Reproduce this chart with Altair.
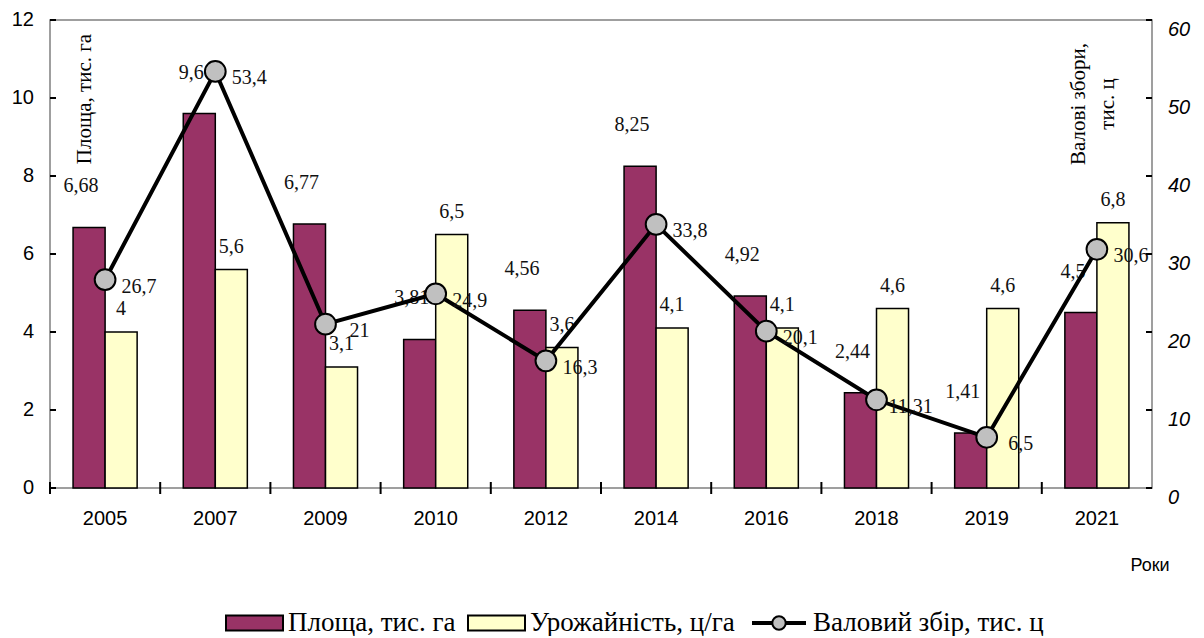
import altair as alt
import pandas as pd

years = ["2005", "2007", "2009", "2010", "2012", "2014", "2016", "2018", "2019", "2021"]
area = [6.68, 9.6, 6.77, 3.81, 4.56, 8.25, 4.92, 2.44, 1.41, 4.5]
yields = [4, 5.6, 3.1, 6.5, 3.6, 4.1, 4.1, 4.6, 4.6, 6.8]
total = [26.7, 53.4, 21, 24.9, 16.3, 33.8, 20.1, 11.31, 6.5, 30.6]
series_names = ["Площа, тис. га", "Урожайність, ц/га", "Валовий збір, тис. ц"]
bar_colors = ["#993366", "#FFFFCC"]
marker_color = "#C0C0C0"
left_ticks = [0, 2, 4, 6, 8, 10, 12]
right_ticks = [0, 10, 20, 30, 40, 50, 60]
left_title = "Площа, тис. га"
right_title = ["Валові збори,", "тис. ц"]
x_title = "Роки"


def fmt(v):
    return f"{v:g}".replace(".", ",")


bars_df = pd.DataFrame({
    "year": years * 2,
    "series": [series_names[0]] * len(years) + [series_names[1]] * len(years),
    "value": area + yields,
})
bars_df["label"] = bars_df["value"].map(fmt)

total_df = pd.DataFrame({"year": years, "series": series_names[2], "value": total})
total_df["label"] = total_df["value"].map(fmt)

lt_df = pd.DataFrame({"value": left_ticks, "label": [str(v) for v in left_ticks]})
rt_df = pd.DataFrame({"value": right_ticks, "label": [str(v) for v in right_ticks]})
yr_df = pd.DataFrame({"year": years})
leg_df = pd.DataFrame({"series": series_names})
one_df = pd.DataFrame({"k": [0]})

W, H = 1102, 468
SERIF = "'Liberation Serif', 'Times New Roman', 'DejaVu Serif', serif"
SANS = "'Liberation Sans', Arial, 'DejaVu Sans', sans-serif"

x_scale = alt.Scale(domain=years, paddingInner=0, paddingOuter=0)
x_main = alt.X("year:N", sort=years, scale=x_scale,
               axis=alt.Axis(labels=False, ticks=False, title=None))
x_plain = alt.X("year:N", sort=years, scale=x_scale, axis=None)
xoff_scale = alt.Scale(domain=series_names[:2], paddingInner=0, paddingOuter=0.72)

yl_scale = alt.Scale(domain=[0, 12], nice=False)
yr_scale = alt.Scale(domain=[0, 60], nice=False)
yl_axis = alt.Axis(values=left_ticks, labels=False, title=None, orient="left")
yr_axis = alt.Axis(values=right_ticks, labels=False, title=None, orient="right")

# ---- bars ----
bars = alt.Chart(bars_df).mark_bar(stroke="black", strokeWidth=1.5).encode(
    x=x_main,
    xOffset=alt.XOffset("series:N", scale=xoff_scale),
    y=alt.Y("value:Q", scale=yl_scale, axis=yl_axis),
    fill=alt.Fill("series:N", scale=alt.Scale(domain=series_names[:2], range=bar_colors),
                  legend=None),
)

label_style = dict(font=SERIF, fontSize=20, color="#111111", baseline="middle", align="center")

area_labels = alt.Chart(bars_df).transform_filter(
    alt.datum.series == series_names[0]
).mark_text(dy=-41, dx=-8, **label_style).encode(
    x=x_plain,
    xOffset=alt.XOffset("series:N", scale=xoff_scale),
    y=alt.Y("value:Q", scale=yl_scale, axis=None),
    text="label:N",
)
yield_labels = alt.Chart(bars_df).transform_filter(
    alt.datum.series == series_names[1]
).mark_text(dy=-23, **label_style).encode(
    x=x_plain,
    xOffset=alt.XOffset("series:N", scale=xoff_scale),
    y=alt.Y("value:Q", scale=yl_scale, axis=None),
    text="label:N",
)

# ---- left axis extras: inward ticks, tick labels, title ----
left_in = alt.Chart(lt_df).mark_rule(color="black", strokeWidth=2).encode(
    y=alt.Y("value:Q", scale=yl_scale, axis=None),
    x=alt.value(0), x2=alt.value(6),
)
left_lbl = alt.Chart(lt_df).mark_text(
    font=SANS, fontSize=20, color="black", align="right", baseline="middle", dx=-16
).encode(
    y=alt.Y("value:Q", scale=yl_scale, axis=None),
    x=alt.value(0),
    text="label:N",
)
left_ttl = alt.Chart(one_df).mark_text(
    text=left_title, font=SERIF, fontSize=21, color="black", angle=270,
    align="center", baseline="middle",
).encode(x=alt.value(35), y=alt.value(79))

# ---- x axis extras ----
x_ticks = alt.Chart(yr_df).mark_rule(color="black", strokeWidth=2).encode(
    x=alt.X("year:N", sort=years, scale=x_scale, axis=None, bandPosition=0),
    y=alt.value(H - 6), y2=alt.value(H + 6),
)
x_lbl = alt.Chart(yr_df).mark_text(
    font=SANS, fontSize=20, color="black", align="center", baseline="middle", dy=31
).encode(x=x_plain, y=alt.value(H), text="year:N")
x_ttl = alt.Chart(one_df).mark_text(
    text=x_title, font=SANS, fontSize=18, color="black", align="center", baseline="middle",
).encode(x=alt.value(1100), y=alt.value(H + 78))

# ---- line + markers ----
line = alt.Chart(total_df).mark_line(strokeWidth=4, color="black").encode(
    x=x_plain,
    y=alt.Y("value:Q", scale=yr_scale, axis=yr_axis),
)
points = alt.Chart(total_df).mark_point(
    shape="circle", filled=True, size=430, stroke="black", strokeWidth=2, opacity=1,
    fill=marker_color,
).encode(
    x=x_plain,
    y=alt.Y("value:Q", scale=yr_scale, axis=None),
)
total_labels = alt.Chart(total_df).mark_text(dx=34, dy=7, **label_style).encode(
    x=x_plain,
    y=alt.Y("value:Q", scale=yr_scale, axis=None),
    text="label:N",
)

# ---- right axis extras ----
right_in = alt.Chart(rt_df).mark_rule(color="black", strokeWidth=2).encode(
    y=alt.Y("value:Q", scale=yr_scale, axis=None),
    x=alt.value(W - 6), x2=alt.value(W),
)
right_lbl = alt.Chart(rt_df).mark_text(
    font=SANS, fontSize=20, fontStyle="italic", color="black", align="left",
    baseline="middle", dx=16, dy=10,
).encode(
    y=alt.Y("value:Q", scale=yr_scale, axis=None),
    x=alt.value(W),
    text="label:N",
)
right_ttl = alt.Chart(one_df).mark_text(
    text=right_title, font=SERIF, fontSize=21, color="black", angle=270,
    align="center", baseline="middle", lineHeight=29,
).encode(x=alt.value(W - 73), y=alt.value(84))

# ---- legend (drawn with marks) ----
LY = 603
leg_text = dict(font=SERIF, fontSize=27, color="black", align="left", baseline="middle")


def leg_rect(i, x0):
    return alt.Chart(leg_df).transform_filter(
        alt.datum.series == series_names[i]
    ).mark_rect(fill=bar_colors[i], stroke="black", strokeWidth=2).encode(
        x=alt.value(x0), x2=alt.value(x0 + 57),
        y=alt.value(LY - 7.5), y2=alt.value(LY + 7.5),
    )


def leg_label(i, x0):
    return alt.Chart(leg_df).transform_filter(
        alt.datum.series == series_names[i]
    ).mark_text(**leg_text).encode(
        x=alt.value(x0), y=alt.value(LY), text="series:N",
    )


leg_line = alt.Chart(leg_df).transform_filter(
    alt.datum.series == series_names[2]
).mark_rule(color="black", strokeWidth=4).encode(
    x=alt.value(702), x2=alt.value(756), y=alt.value(LY),
)
leg_dot = alt.Chart(leg_df).transform_filter(
    alt.datum.series == series_names[2]
).mark_point(shape="circle", filled=True, size=180, fill=marker_color, stroke="black",
             strokeWidth=2, opacity=1).encode(x=alt.value(729), y=alt.value(LY))

legend_layers = [
    leg_rect(0, 176), leg_label(0, 238),
    leg_rect(1, 418), leg_label(1, 480),
    leg_line, leg_dot, leg_label(2, 763),
]

left = alt.layer(bars, area_labels, yield_labels, left_in, left_lbl, left_ttl,
                 x_ticks, x_lbl, x_ttl, *legend_layers)
right = alt.layer(line, points, total_labels, right_in, right_lbl, right_ttl)

chart = alt.layer(left, right).resolve_scale(y="independent").properties(
    width=W, height=H,
    padding={"left": 42, "top": 12, "right": 44, "bottom": 148},
    autosize=alt.AutoSizeParams(type="none"),
).configure_view(
    stroke="#808080", strokeWidth=1.5
).configure_axis(
    domainColor="black", domainWidth=2, tickColor="black", tickWidth=2, tickSize=6,
    grid=False,
)

chart.save("out.html", embed_options={"renderer": "svg", "actions": False})
